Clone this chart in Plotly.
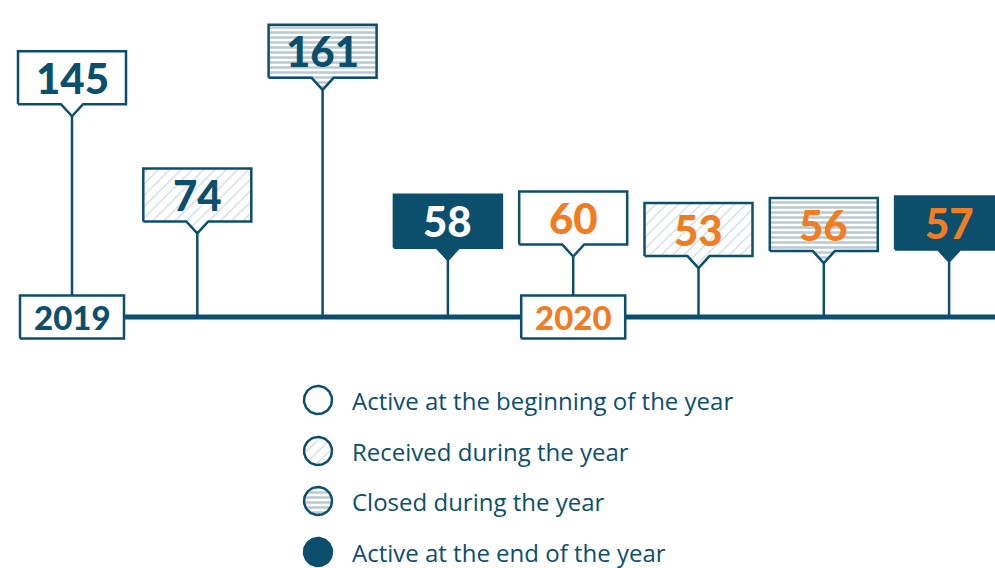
import numpy as np
import plotly.graph_objects as go

# ---------------- data ----------------
years = ["2019", "2020"]
categories = [
    "Active at the beginning of the year",
    "Received during the year",
    "Closed during the year",
    "Active at the end of the year",
]
values_2019 = [145, 74, 161, 58]
values_2020 = [60, 53, 56, 57]

# ---------------- style ----------------
DARK = "#0b4f6c"
ORANGE = "#f07d22"
W, H = 995, 568
X0PX, DXPX = 72, 125.3      # pixel of first slot, pixel spacing between slots
BASEPX, KY = 317, 1.65      # baseline pixel, pixels per count unit

x_range = [(0 - X0PX) / DXPX, (W - X0PX) / DXPX]
y_range = [(BASEPX - H) / KY, BASEPX / KY]


def dx(px):
    return px / DXPX


def dy(px):
    return px / KY


def px_x(px):
    return (px - X0PX) / DXPX


def px_y(px):
    return (BASEPX - px) / KY


styles = [
    dict(fillcolor="white", pattern=None),
    dict(fillcolor="white", pattern=dict(shape="/", fgcolor="#9bb4c1", bgcolor="white", size=8, solidity=0.16)),
    dict(fillcolor="white", pattern=dict(shape="-", fgcolor="#6f93a4", bgcolor="white", size=5, solidity=0.5)),
    dict(fillcolor=DARK, pattern=None),
]

fig = go.Figure()

# timeline
fig.add_trace(go.Scatter(x=[0, x_range[1]], y=[0, 0], mode="lines",
                         line=dict(color=DARK, width=5), hoverinfo="skip"))

BOX_HW, BOX_HH = dx(54), dy(26.5)
PTR_HW, PTR_D = dx(11), dy(12)
YR_HW, YR_HH = dx(52), dy(21.5)

all_values = [values_2019, values_2020]
annotations = []

for yi, (year, vals) in enumerate(zip(years, all_values)):
    txt_col = DARK if yi == 0 else ORANGE
    for ci, v in enumerate(vals):
        xc = yi * 4 + ci
        tip = v - BOX_HH - PTR_D
        # stem
        fig.add_trace(go.Scatter(x=[xc, xc], y=[0, tip], mode="lines",
                                 line=dict(color=DARK, width=2.5), hoverinfo="skip"))
        # callout box with pointer
        xs = [xc - BOX_HW, xc - PTR_HW, xc, xc + PTR_HW, xc + BOX_HW, xc + BOX_HW, xc - BOX_HW, xc - BOX_HW]
        ys = [v - BOX_HH, v - BOX_HH, tip, v - BOX_HH, v - BOX_HH, v + BOX_HH, v + BOX_HH, v - BOX_HH]
        st = styles[ci]
        kw = dict(x=xs, y=ys, mode="lines", fill="toself", fillcolor=st["fillcolor"],
                  line=dict(color=DARK, width=2.5), hoverinfo="skip")
        if st["pattern"]:
            kw["fillpattern"] = st["pattern"]
        fig.add_trace(go.Scatter(**kw))
        col = "white" if (ci == 3 and yi == 0) else txt_col
        annotations.append(dict(x=xc, y=v, text=str(v), showarrow=False,
                                font=dict(family="Lato", size=42, color=col, weight=900),
                                xanchor="center", yanchor="middle"))
    # year box
    xc = yi * 4
    xs = [xc - YR_HW, xc + YR_HW, xc + YR_HW, xc - YR_HW, xc - YR_HW]
    ys = [-YR_HH, -YR_HH, YR_HH, YR_HH, -YR_HH]
    fig.add_trace(go.Scatter(x=xs, y=ys, mode="lines", fill="toself", fillcolor="white",
                             line=dict(color=DARK, width=2.5), hoverinfo="skip"))
    annotations.append(dict(x=xc, y=0, text=year, showarrow=False,
                            font=dict(family="Lato", size=33, color=txt_col, weight=900),
                            xanchor="center", yanchor="middle"))

# legend (custom)
leg_y = [400, 451, 501, 552]
t = np.linspace(0, 2 * np.pi, 73)
R = 14
for li, (cat, ly) in enumerate(zip(categories, leg_y)):
    st = styles[li]
    xs = px_x(318 + R * np.cos(t))
    ys = px_y(ly + R * np.sin(t))
    kw = dict(x=xs, y=ys, mode="lines", fill="toself", fillcolor=st["fillcolor"],
              line=dict(color=DARK, width=2.5), hoverinfo="skip")
    if st["pattern"]:
        kw["fillpattern"] = st["pattern"]
    fig.add_trace(go.Scatter(**kw))
    annotations.append(dict(x=px_x(350), y=px_y(ly), text=cat, showarrow=False,
                            font=dict(family="Open Sans", size=24, color=DARK),
                            xanchor="left", yanchor="middle"))

fig.update_layout(
    width=W, height=H,
    margin=dict(l=0, r=0, t=0, b=0),
    paper_bgcolor="white", plot_bgcolor="white",
    showlegend=False, hovermode=False,
    xaxis=dict(range=x_range, visible=False, fixedrange=True),
    yaxis=dict(range=y_range, visible=False, fixedrange=True),
    annotations=annotations,
)

fig.write_html("out.html", config={"displayModeBar": False},
               post_script="document.body.style.margin='0';document.body.style.overflow='hidden';")
